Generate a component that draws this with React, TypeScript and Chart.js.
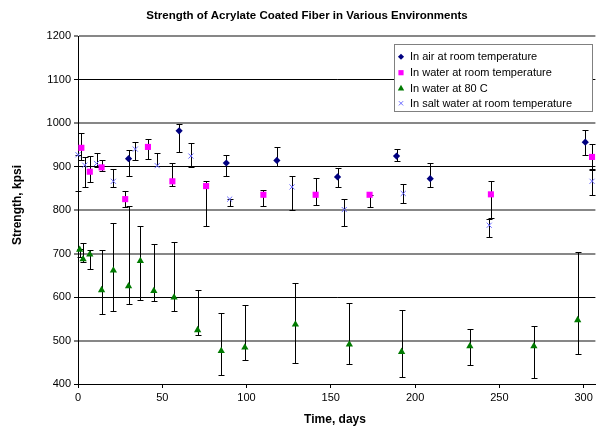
import React, { useEffect, useRef } from "react";
import { Chart, registerables } from "chart.js";

Chart.register(...registerables);

const TITLE = "Strength of Acrylate Coated Fiber in Various Environments";
const X_TITLE = "Time, days";
const Y_TITLE = "Strength, kpsi";
const SERIES_NAMES = [
  "In air at room temperature",
  "In water at room temperature",
  "In water at 80 C",
  "In salt water at room temperature",
];

// In air at room temperature
const airDays = [30, 60, 88, 118, 154, 189, 209, 301];
const airVals = [918, 982, 908, 914, 876, 924, 872, 956];
const airLo = [878, 934, 878, 902, 853, 912, 853, 927];
const airHi = [937, 997, 927, 945, 897, 940, 908, 983];

// In water at room temperature
const waterDays = [2, 7, 14, 28, 41.5, 56, 76, 110, 141, 173, 245, 305];
const waterVals = [943, 888, 898, 825, 945, 866, 855, 835, 835, 835, 836, 922];
const waterLo = [915, 865, 889, 807, 918, 856, 764, 809, 812, 807, 782, 891];
const waterHi = [977, 924, 916, 844, 963, 907, 867, 845, 874, 835, 867, 951];

// In water at 80 C
const hotDays = [1, 3, 7, 14, 21, 30, 37, 45, 57, 71, 85, 99, 129, 161, 192, 232.5, 270.5, 296.5];
const hotVals = [709, 687, 698, 616, 661, 625, 683, 614, 599, 524, 476, 484, 537, 491, 474, 487, 487, 547];
const hotLo = [692, 680, 664, 560, 567, 585, 592, 590, 567, 512, 420, 455, 449, 445, 416, 443, 413, 468];
const hotHi = [711, 723, 709, 709, 771, 809, 764, 722, 726, 616, 563, 582, 633, 586, 571, 526, 534, 704];

// In salt water at room temperature
const saltDays = [0, 4, 11, 21, 34, 47, 67, 90, 127, 158, 193, 244, 305];
const saltVals = [927, 903, 907, 866, 940, 902, 924, 825, 853, 801, 838, 765, 866];
const saltLo = [844, 853, 898, 853, 914, 902, 898, 809, 800, 764, 816, 738, 834];
const saltHi = [927, 922, 930, 894, 956, 931, 953, 825, 878, 825, 859, 780, 894];

const X_TICKS = [0, 50, 100, 150, 200, 250, 300];
const Y_MIN = 400;
const Y_MAX = 1200;
const Y_STEP = 100;
const X_MIN = 0;
const X_MAX = 307;
const GRAY_LINES = [1200, 1000, 800, 700, 500];

const FONT = "'Liberation Sans', Arial, sans-serif";

const COLORS = ["#000080", "#FF00FF", "#007A00", "#6B6BFF"];
const STYLES = ["rectRot", "rect", "triangle", "crossRot"];
const RADII = [3.6, 4.3, 4.2, 3.6];

const toPoints = (xs: number[], ys: number[]) => xs.map((x, i) => ({ x, y: ys[i] }));

const errorSets = [
  { xs: airDays, lo: airLo, hi: airHi },
  { xs: waterDays, lo: waterLo, hi: waterHi },
  { xs: hotDays, lo: hotLo, hi: hotHi },
  { xs: saltDays, lo: saltLo, hi: saltHi },
];

function drawMarker(ctx: CanvasRenderingContext2D, style: string, x: number, y: number, r: number, color: string) {
  ctx.save();
  ctx.fillStyle = color;
  ctx.strokeStyle = color;
  ctx.lineWidth = 1;
  ctx.beginPath();
  if (style === "rectRot") {
    ctx.moveTo(x, y - r);
    ctx.lineTo(x + r, y);
    ctx.lineTo(x, y + r);
    ctx.lineTo(x - r, y);
    ctx.closePath();
    ctx.fill();
  } else if (style === "rect") {
    const s = r * Math.SQRT1_2;
    ctx.rect(x - s, y - s, 2 * s, 2 * s);
    ctx.fill();
  } else if (style === "triangle") {
    ctx.moveTo(x, y - r);
    ctx.lineTo(x + r * 0.9, y + r * 0.6);
    ctx.lineTo(x - r * 0.9, y + r * 0.6);
    ctx.closePath();
    ctx.fill();
  } else {
    const s = r * Math.SQRT1_2;
    ctx.moveTo(x - s, y - s);
    ctx.lineTo(x + s, y + s);
    ctx.moveTo(x + s, y - s);
    ctx.lineTo(x - s, y + s);
    ctx.stroke();
  }
  ctx.restore();
}

const overlayPlugin = {
  id: "overlay",
  beforeDatasetsDraw(chart: any) {
    const ctx: CanvasRenderingContext2D = chart.ctx;
    const xs = chart.scales.x;
    const ys = chart.scales.y;
    ctx.save();
    ctx.strokeStyle = "#000";
    ctx.lineWidth = 1;
    errorSets.forEach((set) => {
      set.xs.forEach((d, i) => {
        const px = Math.round(xs.getPixelForValue(d)) + 0.5;
        const pLo = Math.round(ys.getPixelForValue(set.lo[i])) + 0.5;
        const pHi = Math.round(ys.getPixelForValue(set.hi[i])) + 0.5;
        ctx.beginPath();
        ctx.moveTo(px, pLo);
        ctx.lineTo(px, pHi);
        ctx.moveTo(px - 3, pLo);
        ctx.lineTo(px + 3, pLo);
        ctx.moveTo(px - 3, pHi);
        ctx.lineTo(px + 3, pHi);
        ctx.stroke();
      });
    });
    ctx.restore();
  },
  afterDraw(chart: any) {
    const ctx: CanvasRenderingContext2D = chart.ctx;
    ctx.save();
    ctx.fillStyle = "#000";
    ctx.textAlign = "center";
    ctx.textBaseline = "middle";
    ctx.font = `bold 11.5px ${FONT}`;
    ctx.fillText(TITLE, 307, 16);
    ctx.font = `bold 12px ${FONT}`;
    ctx.fillText(X_TITLE, 335, 420);
    ctx.save();
    ctx.translate(18, 205);
    ctx.rotate(-Math.PI / 2);
    ctx.fillText(Y_TITLE, 0, 0);
    ctx.restore();

    // legend
    ctx.fillStyle = "#fff";
    ctx.fillRect(394, 44, 198, 68);
    ctx.strokeStyle = "#808080";
    ctx.lineWidth = 1;
    ctx.strokeRect(394.5, 44.5, 198, 67);
    const rows = [56.7, 72.7, 88.3, 103.3];
    ctx.font = `11px ${FONT}`;
    ctx.textAlign = "left";
    ctx.fillStyle = "#000";
    SERIES_NAMES.forEach((name, i) => {
      drawMarker(ctx, STYLES[i], 401, rows[i], i === 3 ? 3 : RADII[i] * 0.85, COLORS[i]);
      ctx.fillStyle = "#000";
      ctx.fillText(name, 410, rows[i] + 0.5);
    });
    ctx.restore();
  },
};

export default function App() {
  const ref = useRef<HTMLCanvasElement | null>(null);
  useEffect(() => {
    if (!ref.current) return;
    const mk = (i: number, data: { x: number; y: number }[]) => ({
      label: SERIES_NAMES[i],
      data,
      showLine: false,
      pointStyle: STYLES[i],
      pointRadius: RADII[i],
      pointHoverRadius: RADII[i],
      pointBackgroundColor: COLORS[i],
      pointBorderColor: COLORS[i],
      pointBorderWidth: i === 3 ? 1 : 0,
      clip: false as any,
    });
    const chart = new Chart(ref.current, {
      type: "scatter",
      data: {
        datasets: [
          mk(0, toPoints(airDays, airVals)),
          mk(1, toPoints(waterDays, waterVals)),
          mk(2, toPoints(hotDays, hotVals)),
          mk(3, toPoints(saltDays, saltVals)),
        ] as any,
      },
      plugins: [overlayPlugin],
      options: {
        responsive: false,
        animation: false,
        layout: { padding: { top: 36, left: 0, right: 0, bottom: 0 } },
        plugins: { legend: { display: false }, tooltip: { enabled: false }, title: { display: false } },
        scales: {
          x: {
            type: "linear",
            min: X_MIN,
            max: X_MAX,
            afterBuildTicks: (scale: any) => {
              scale.ticks = X_TICKS.map((v) => ({ value: v }));
            },
            afterFit: (scale: any) => {
              scale.height = 46;
            },
            grid: { drawOnChartArea: false, drawTicks: true, tickLength: 4, tickColor: "#000", color: "#000" },
            border: { display: true, color: "#000", width: 1 },
            ticks: {
              color: "#000",
              font: { family: FONT, size: 11 },
              padding: 3,
              maxRotation: 0,
              callback: (v: any) => String(v),
            },
          },
          y: {
            type: "linear",
            min: Y_MIN,
            max: Y_MAX,
            afterFit: (scale: any) => {
              scale.width = 78;
            },
            grid: {
              color: (c: any) => (GRAY_LINES.includes(c.tick?.value) ? "#878787" : "#000"),
              lineWidth: (c: any) => (GRAY_LINES.includes(c.tick?.value) ? 2 : 1),
              tickColor: "#000",
              tickWidth: 1,
              tickLength: 4,
            },
            border: { display: true, color: "#000", width: 1 },
            ticks: {
              stepSize: Y_STEP,
              color: "#000",
              font: { family: FONT, size: 11 },
              padding: 3,
              callback: (v: any) => String(v),
            },
          },
        },
      },
    });
    return () => chart.destroy();
  }, []);
  return (
    <div style={{ position: "absolute", left: 0, top: 0, width: 600, height: 430, background: "#fff" }}>
      <canvas ref={ref} width={600} height={430} style={{ display: "block", width: 600, height: 430 }} />
    </div>
  );
}
